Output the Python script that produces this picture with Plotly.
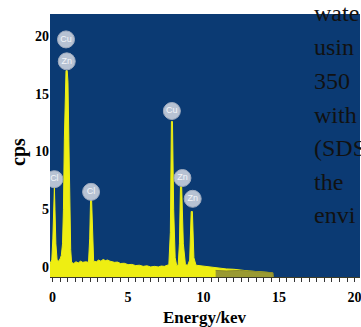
import plotly.graph_objects as go

# ---- data ----
energy = [-0.17, -0.05, 0.02, 0.08, 0.12, 0.16, 0.22, 0.30, 0.40, 0.50, 0.58, 0.66, 0.72, 0.78, 0.84,
          0.89, 0.97, 1.02, 1.08, 1.14, 1.20, 1.26, 1.40, 1.55, 1.70, 1.85, 2.00, 2.20, 2.38, 2.46,
          2.52, 2.58, 2.64, 2.72, 2.90, 3.05, 3.20, 3.35, 3.50, 3.65, 3.80, 3.95, 4.10, 4.30, 4.50,
          4.75, 5.00, 5.25, 5.50, 5.75, 6.00, 6.25, 6.50, 6.75, 7.00, 7.20, 7.40,
          7.70, 7.80, 7.87, 7.94, 8.02, 8.12, 8.22, 8.32, 8.40, 8.47, 8.55, 8.66, 8.80, 8.95, 9.08,
          9.18, 9.26, 9.36, 9.50, 9.80, 10.20, 10.60, 11.00, 11.50, 12.00, 12.50, 13.00, 13.50,
          14.00, 14.50, 14.60]
counts = [0.3, 0.6, 2.5, 5.5, 6.9, 5.0, 2.0, 0.6, 0.5, 0.7, 1.0, 2.0, 5.0, 11.0, 16.0,
          17.0, 17.0, 16.0, 11.0, 5.0, 1.5, 0.4, 0.3, 0.45, 0.35, 0.5, 0.4, 0.45, 0.4, 2.5,
          6.0, 6.0, 2.5, 0.5, 0.45, 0.6, 0.5, 0.65, 0.55, 0.6, 0.5, 0.45, 0.4, 0.42, 0.3,
          0.32, 0.2, 0.22, 0.12, 0.15, 0.05, 0.1, 0.0, 0.05, 0.0, 0.08, 0.05,
          0.2, 3.0, 12.6, 12.6, 5.0, 0.8, 0.1, 0.2, 2.0, 6.95, 6.95, 2.0, 0.2, 0.15, 0.6,
          4.8, 4.8, 0.8, 0.15, 0.1, 0.05, 0.0, -0.1, -0.17, -0.2, -0.3, -0.35, -0.4,
          -0.45, -0.5, -0.85]

tail_energy = [10.8, 11.5, 12.4, 13.0, 14.0, 14.6, 14.62]
tail_counts = [-0.3, -0.35, -0.3, -0.35, -0.45, -0.5, -0.85]

label_text = ["Cu", "Zn", "Cl", "Cl", "Cu", "Zn", "Zn"]
label_energy = [0.89, 0.94, 0.12, 2.55, 7.90, 8.60, 9.28]
label_counts = [19.7, 17.8, 7.6, 6.5, 13.5, 7.7, 5.9]

x_ticks = [0, 5, 10, 15, 20]
y_ticks = [0, 5, 10, 15, 20]

side_text = ["wate", "usin", "350", "with", "(SDS", "the", "envi"]

X_RANGE = [-0.17, 20.36]
Y_RANGE = [-0.87, 21.9]

BLUE = "#0b3a73"
YELLOW = "#eeee12"
SERIF = "Liberation Serif"

fig = go.Figure()
fig.add_trace(go.Scatter(x=energy, y=[Y_RANGE[0]] * len(energy), mode="lines",
                         line=dict(width=0, color=YELLOW), showlegend=False, hoverinfo="skip"))
fig.add_trace(go.Scatter(x=energy, y=counts, mode="lines", fill="tonexty",
                         fillcolor=YELLOW, line=dict(width=1, color=YELLOW), showlegend=False))
fig.add_trace(go.Scatter(x=tail_energy, y=[Y_RANGE[0]] * len(tail_energy), mode="lines",
                         line=dict(width=0, color="#8f8f30"), showlegend=False, hoverinfo="skip"))
fig.add_trace(go.Scatter(x=tail_energy, y=tail_counts, mode="lines", fill="tonexty",
                         fillcolor="#9a9a32", line=dict(width=1, color="#8a8a2c"), showlegend=False))
fig.add_trace(go.Scatter(x=label_energy, y=label_counts, mode="markers+text", text=label_text,
                         textposition="middle center",
                         marker=dict(size=17, color="#b7c2d3", line=dict(width=1, color="#9fabbf")),
                         textfont=dict(family="Arial", size=9, color="#f4f6fa"), showlegend=False))

fig.update_layout(
    width=361, height=327,
    margin=dict(l=50, r=1, t=14, b=50),
    paper_bgcolor="white", plot_bgcolor=BLUE,
    xaxis=dict(range=X_RANGE, showgrid=False, zeroline=False, showline=True,
               linecolor="#3c3c28", linewidth=1, ticks="outside", ticklen=4, tickcolor="#333",
               tickvals=x_ticks, automargin=False, ticklabelstandoff=3,
               ticklabeloverflow="allow",
               minor=dict(dtick=0.5, tick0=0, ticks="outside", ticklen=4, tickcolor="#333"),
               tickfont=dict(family=SERIF, size=14, color="black", weight="bold")),
    yaxis=dict(range=Y_RANGE, showgrid=False, zeroline=False, showline=False, ticks="",
               tickvals=y_ticks, automargin=False,
               tickfont=dict(family=SERIF, size=14, color="black", weight="bold")),
)

fig.add_annotation(text="cps", xref="paper", yref="paper", x=(18 - 50) / 310, y=(277 - 152) / 263,
                   textangle=-90, showarrow=False, xanchor="center", yanchor="middle",
                   font=dict(family=SERIF, size=20, color="black", weight="bold"))
fig.add_annotation(text="Energy/kev", xref="paper", yref="paper", x=0.5, y=(277 - 317) / 263,
                   showarrow=False, xanchor="center", yanchor="middle",
                   font=dict(family=SERIF, size=17, color="black", weight="bold"))

centers = [13, 47, 81, 115, 148, 182, 215]
for t, c in zip(side_text, centers):
    fig.add_annotation(text=t, xref="paper", yref="paper", x=(312 - 50) / 310,
                       y=(277 - c) / 263, showarrow=False, xanchor="left", yanchor="middle",
                       font=dict(family=SERIF, size=24, color="#111"))

fig.write_html("out.html")
